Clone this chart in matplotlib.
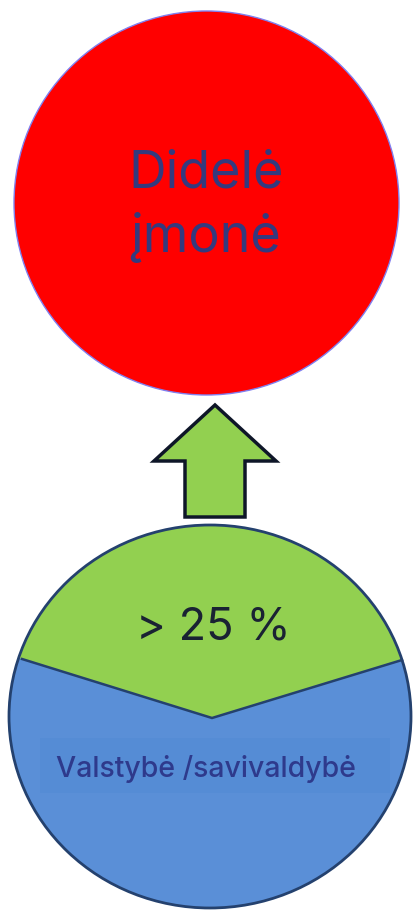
import matplotlib
matplotlib.use("Agg")
import matplotlib.pyplot as plt
from matplotlib.patches import Ellipse, Polygon, Rectangle

# --- content ---
top_labels = ["Didelė", "įmonė"]
share_label = "> 25 %"
owner_label = "Valstybė /savivaldybė"

# colours
red = "#FF0000"
green = "#92D050"
blue = "#5A8FD7"
navy_text = "#343A7E"
dark = "#1A2233"

W, H = 413, 910
fig = plt.figure(figsize=(W / 100, H / 100), dpi=100)
ax = fig.add_axes([0, 0, 1, 1])
ax.set_xlim(0, W)
ax.set_ylim(H, 0)
ax.axis("off")

font = ["Inter", "DejaVu Sans"]

# top red circle
ax.add_patch(Ellipse((206.5, 203), 385, 384, facecolor=red,
                     edgecolor="#8080F0", lw=1.0, zorder=2))
ax.text(206, 188, top_labels[0], ha="center", va="baseline",
        fontsize=37.5, color=navy_text, family=font, zorder=3)
ax.text(206, 252, top_labels[1], ha="center", va="baseline",
        fontsize=37.5, color=navy_text, family=font, zorder=3)

# arrow
arrow = [(215, 405), (276, 461), (245, 461), (245, 517),
         (185, 517), (185, 461), (154, 461)]
ax.add_patch(Polygon(arrow, closed=True, facecolor=green,
                     edgecolor="#0E1628", lw=2.5, joinstyle="miter", zorder=2))

# bottom circle
cx, cy, ew, eh = 210, 716.5, 402, 383
edge = "#24416E"
base = Ellipse((cx, cy), ew, eh, facecolor=blue, edgecolor="none", zorder=2)
ax.add_patch(base)
top_part = Polygon([(0, 500), (413, 500), (413, 656), (402, 660),
                    (212, 718), (22, 659), (0, 652)], closed=True,
                   facecolor=green, edgecolor="none", zorder=3)
ax.add_patch(top_part)
top_part.set_clip_path(base)
ax.plot([22, 212, 402], [659, 718, 660], color=edge, lw=1.8,
        solid_joinstyle="miter", zorder=4)
ax.add_patch(Ellipse((cx, cy), ew, eh, facecolor="none",
                     edgecolor=edge, lw=2.0, zorder=5))

# subtle text box
box = Rectangle((40, 738), 350, 55, facecolor="#558CD5", edgecolor="none",
                zorder=3)
ax.add_patch(box)
box.set_clip_path(base)

ax.text(213, 640, share_label, ha="center", va="baseline",
        fontsize=32.5, color=dark, family=font, zorder=6)
ax.text(206, 777, owner_label, ha="center", va="baseline",
        fontsize=20.5, weight="medium", color="#2E3A8C", family=font,
        zorder=6)

fig.savefig("out.png", dpi=100, facecolor="white")
